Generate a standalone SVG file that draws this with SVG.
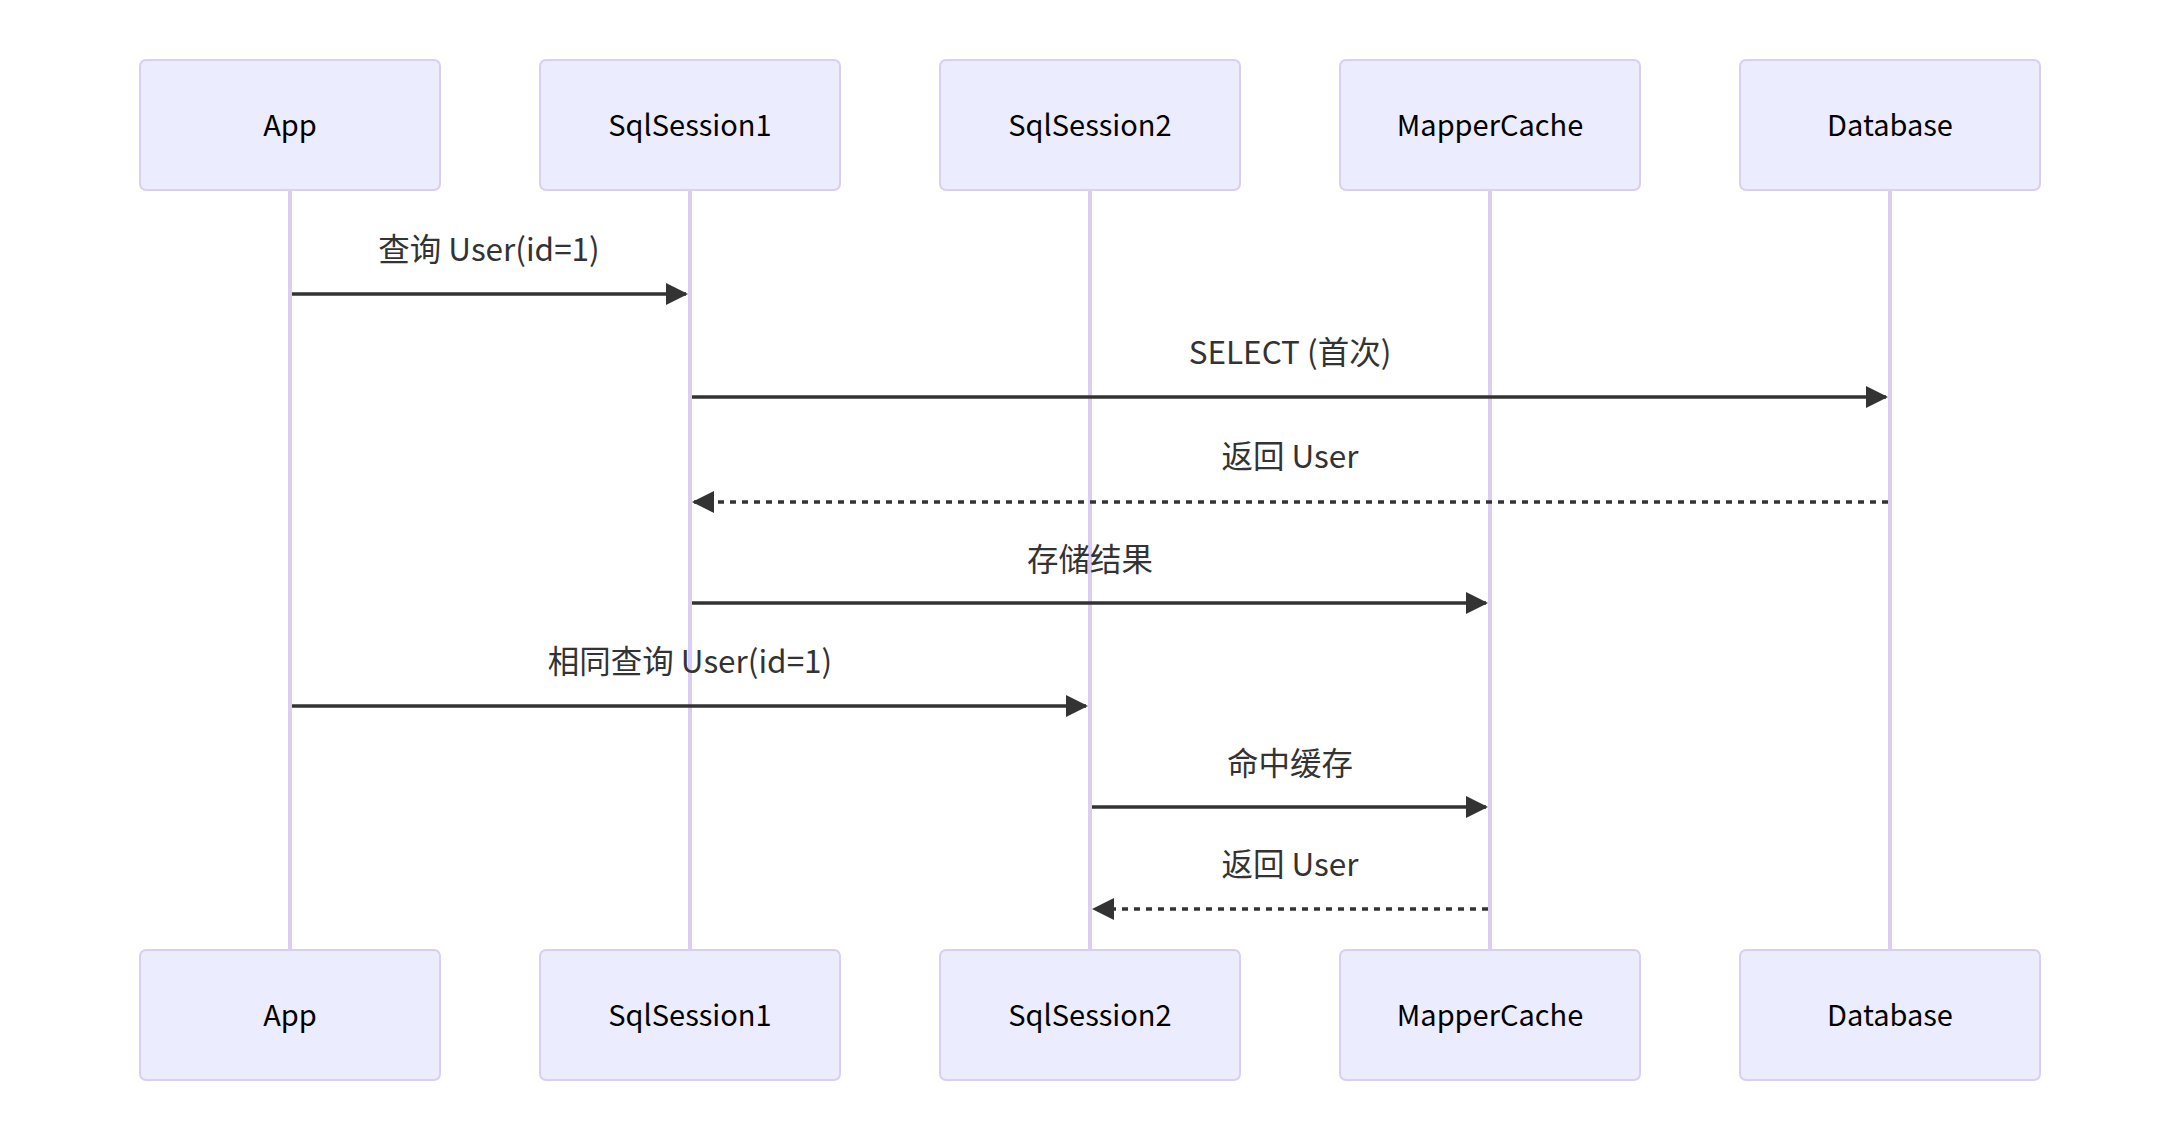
<svg xmlns="http://www.w3.org/2000/svg" width="2180" height="1142" viewBox="0 0 2180 1142">
<style>
.actor{fill:#ECECFF;stroke:#DACEF3;stroke-width:2}
.atext{font-family:"Noto Sans CJK SC","Noto Sans",sans-serif;font-size:29px;fill:#000;text-anchor:middle}
.life{stroke:#DACEF3;stroke-width:4;fill:none}
.msg{stroke:#333;stroke-width:3.5;fill:none}
.dash{stroke-dasharray:6,6}
.mtext{font-family:"Noto Sans CJK SC","Noto Sans",sans-serif;font-size:31.5px;fill:#333;text-anchor:middle}
</style>
<defs>
<marker id="ah" markerUnits="userSpaceOnUse" markerWidth="22" markerHeight="22" viewBox="0 0 22 22" refX="20" refY="11" orient="auto">
<path d="M0,0 L22,11 L0,22 z" fill="#333"/>
</marker>
</defs>
<rect width="2180" height="1142" fill="#fff"/>
<g id="lifelines">
<line class="life" x1="290" y1="190" x2="290" y2="950"/>
<line class="life" x1="690" y1="190" x2="690" y2="950"/>
<line class="life" x1="1090" y1="190" x2="1090" y2="950"/>
<line class="life" x1="1490" y1="190" x2="1490" y2="950"/>
<line class="life" x1="1890" y1="190" x2="1890" y2="950"/>
</g>
<g id="App">
<rect class="actor" x="140" y="60" width="300" height="130" rx="6"/>
<text class="atext" x="290" y="136">App</text>
<rect class="actor" x="140" y="950" width="300" height="130" rx="6"/>
<text class="atext" x="290" y="1026">App</text>
</g>
<g id="SqlSession1">
<rect class="actor" x="540" y="60" width="300" height="130" rx="6"/>
<text class="atext" x="690" y="136">SqlSession1</text>
<rect class="actor" x="540" y="950" width="300" height="130" rx="6"/>
<text class="atext" x="690" y="1026">SqlSession1</text>
</g>
<g id="SqlSession2">
<rect class="actor" x="940" y="60" width="300" height="130" rx="6"/>
<text class="atext" x="1090" y="136">SqlSession2</text>
<rect class="actor" x="940" y="950" width="300" height="130" rx="6"/>
<text class="atext" x="1090" y="1026">SqlSession2</text>
</g>
<g id="MapperCache">
<rect class="actor" x="1340" y="60" width="300" height="130" rx="6"/>
<text class="atext" x="1490" y="136">MapperCache</text>
<rect class="actor" x="1340" y="950" width="300" height="130" rx="6"/>
<text class="atext" x="1490" y="1026">MapperCache</text>
</g>
<g id="Database">
<rect class="actor" x="1740" y="60" width="300" height="130" rx="6"/>
<text class="atext" x="1890" y="136">Database</text>
<rect class="actor" x="1740" y="950" width="300" height="130" rx="6"/>
<text class="atext" x="1890" y="1026">Database</text>
</g>
<g id="connectors">
<text class="mtext" x="489" y="261">查询 User(id=1)</text>
<line class="msg" x1="292" y1="294" x2="686" y2="294" marker-end="url(#ah)"/>
<text class="mtext" x="1290" y="364">SELECT (首次)</text>
<line class="msg" x1="692" y1="397" x2="1886" y2="397" marker-end="url(#ah)"/>
<text class="mtext" x="1290" y="468">返回 User</text>
<line class="msg dash" x1="1888" y1="502" x2="694" y2="502" marker-end="url(#ah)"/>
<text class="mtext" x="1090" y="571">存储结果</text>
<line class="msg" x1="692" y1="603" x2="1486" y2="603" marker-end="url(#ah)"/>
<text class="mtext" x="690" y="673">相同查询 User(id=1)</text>
<line class="msg" x1="292" y1="706" x2="1086" y2="706" marker-end="url(#ah)"/>
<text class="mtext" x="1290" y="775">命中缓存</text>
<line class="msg" x1="1092" y1="807" x2="1486" y2="807" marker-end="url(#ah)"/>
<text class="mtext" x="1290" y="876">返回 User</text>
<line class="msg dash" x1="1488" y1="909" x2="1094" y2="909" marker-end="url(#ah)"/>
</g>
</svg>
